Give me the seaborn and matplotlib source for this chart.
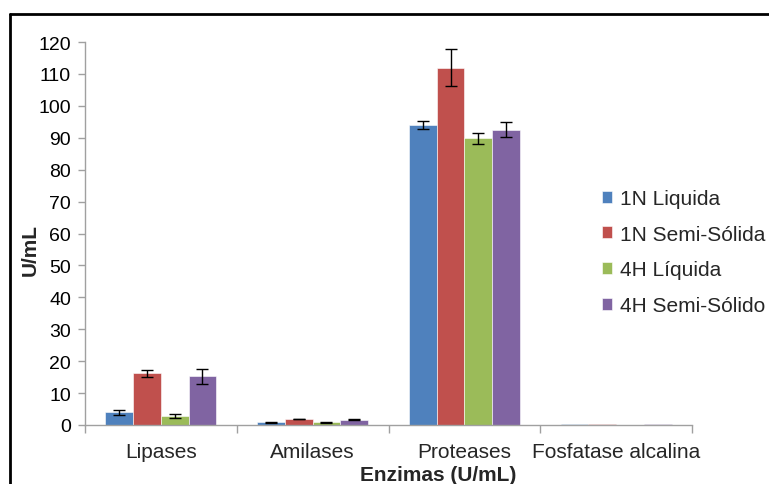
import matplotlib
matplotlib.use("Agg")
import matplotlib.pyplot as plt
import seaborn as sns
import pandas as pd
import numpy as np
from matplotlib.lines import Line2D

categories = ["Lipases", "Amilases", "Proteases", "Fosfatase alcalina"]
series = ["1N Liquida", "1N Semi-Sólida", "4H Líquida", "4H Semi-Sólido"]
vals_1n_liq = [4.0, 0.85, 94.0, 0.35]
vals_1n_semi = [16.2, 1.9, 112.0, 0.35]
vals_4h_liq = [2.9, 0.85, 89.8, 0.0]
vals_4h_semi = [15.3, 1.7, 92.5, 0.35]
err_1n_liq = [0.85, 0.1, 1.3, 0.0]
err_1n_semi = [1.1, 0.1, 5.8, 0.0]
err_4h_liq = [0.7, 0.1, 1.7, 0.0]
err_4h_semi = [2.4, 0.1, 2.4, 0.0]
colors = ["#4F81BD", "#C0504D", "#9BBB59", "#8064A2"]

values = [vals_1n_liq, vals_1n_semi, vals_4h_liq, vals_4h_semi]
errors = [err_1n_liq, err_1n_semi, err_4h_liq, err_4h_semi]

rows = []
for s, v, e in zip(series, values, errors):
    for c, vv, ee in zip(categories, v, e):
        rows.append({"Enzima": c, "Serie": s, "Valor": vv, "Erro": ee})
df = pd.DataFrame(rows)

sns.set_theme(style="white")
plt.rcParams["font.family"] = ["Liberation Sans", "DejaVu Sans"]

fig = plt.figure(figsize=(7.69, 4.85), dpi=100)
W, H = 769, 485
ax = fig.add_axes([85 / W, (H - 426) / H, (692 - 85) / W, (426 - 43) / H])

sns.barplot(data=df, x="Enzima", y="Valor", hue="Serie", order=categories,
            hue_order=series, palette=colors, width=0.73, errorbar=None,
            saturation=1, ax=ax, edgecolor="white", linewidth=0.4)

# error bars at bar centers
for i, s in enumerate(series):
    cont = ax.containers[i]
    xs = [p.get_x() + p.get_width() / 2 for p in cont.patches]
    ys = [p.get_height() for p in cont.patches]
    es = errors[i]
    for x, y, e in zip(xs, ys, es):
        if e > 0:
            ax.errorbar(x, y, yerr=e, fmt="none", ecolor="black",
                        elinewidth=1.0, capsize=4, capthick=1.0)

ax.set_ylim(0, 120)
ax.set_xlim(-0.5, 3.5)
ax.set_yticks(np.arange(0, 121, 10))
ax.tick_params(axis="y", labelsize=14, colors="#000000", length=5,
               color="#A0A0A0", width=1, left=True, pad=5)
ax.set_xticks(np.arange(-0.5, 3.6, 1.0), minor=False)
ax.set_xticklabels([])
ax.set_xticks(range(4), minor=True)
ax.set_xticklabels(categories, minor=True)
ax.tick_params(axis="x", which="major", length=6, color="#A0A0A0", width=1,
               bottom=True, direction="out")
ax.tick_params(axis="x", which="minor", length=0, labelsize=15, pad=12)

for sp in ["top", "right"]:
    ax.spines[sp].set_visible(False)
for sp in ["left", "bottom"]:
    ax.spines[sp].set_color("#A0A0A0")
    ax.spines[sp].set_linewidth(1)

ax.set_xlabel("")
ax.set_ylabel("")
fig.text(30 / W, (H - 250) / H, "U/mL", rotation=90, fontsize=15,
         fontweight="bold", ha="center", va="center")
fig.text(360 / W, (H - 476) / H, "Enzimas (U/mL)", fontsize=15,
         fontweight="bold", ha="left", va="center")

handles, labels = ax.get_legend_handles_labels()
if ax.get_legend() is not None:
    ax.get_legend().remove()
fig.legend(handles, labels, loc="center left",
           bbox_to_anchor=(602 / W, (H - 253) / H),
           bbox_transform=fig.transFigure, frameon=False, fontsize=15,
           handlelength=0.5, handleheight=0.5, handletextpad=0.35,
           labelspacing=0.8, borderpad=0, borderaxespad=0)

# outer frame (left and top lines)
fig.add_artist(Line2D([10 / W, 10 / W], [0, (H - 15) / H], color="black",
                      linewidth=2, transform=fig.transFigure))
fig.add_artist(Line2D([10 / W, 1.0], [(H - 15) / H, (H - 15) / H],
                      color="black", linewidth=2, transform=fig.transFigure))

fig.savefig("out.png", dpi=100)
